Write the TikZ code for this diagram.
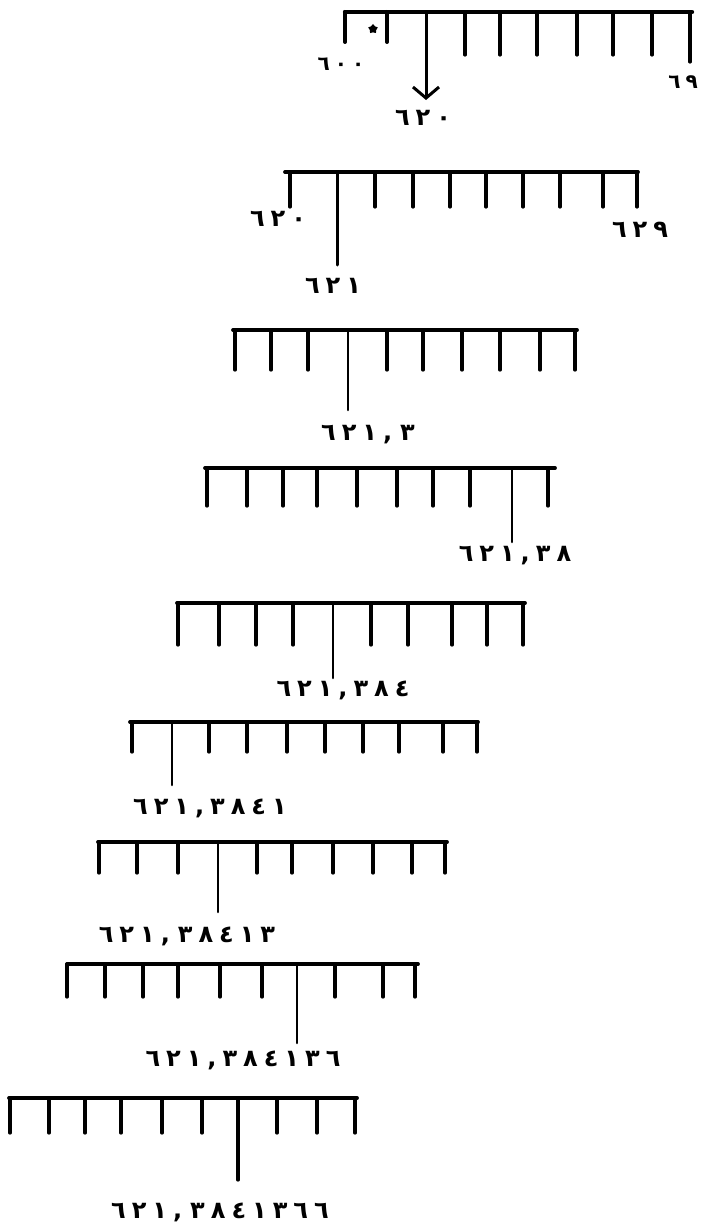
\documentclass[tikz,border=0pt]{standalone}
\usepackage{fontspec}
\TeXXeTstate=1
\newfontfamily\digitfont[LetterSpace=25]{DejaVu Sans Bold}
\usepackage{tikz}
\usetikzlibrary{arrows.meta,shapes.geometric}

\tikzset{
  bar/.style={line width=3.8pt, line cap=round},
  tick/.style={line width=3.2pt, line cap=round},
  pointer/.style={line width=2.6pt, line cap=round},
  lab/.style={inner sep=0pt, font=\digitfont\fontsize{24}{24}\selectfont},
  smalllab/.style={inner sep=0pt, font=\digitfont\fontsize{20}{20}\selectfont}
}

\begin{document}
\begin{tikzpicture}[x=1pt, y=-1pt, >=Stealth]
\useasboundingbox (0,0) rectangle (706,1231);
% ruler 1
\begin{scope}
  \draw[bar, line width=4.4pt] (345,12) -- (692,12);
  \foreach \x in {345,387}{\draw[tick, line width=4pt] (\x,12) -- (\x,42);}
  \foreach \x in {465,500,537,577,613,652}{\draw[tick] (\x,12) -- (\x,55);}
  \draw[tick] (690,12) -- (690,62);
  \node[star, star points=5, fill, inner sep=0pt, minimum size=10pt] (mark) at (373,29) {};
  \node[smalllab] (l0a) at (341,64) {\beginR\beginL ٦٠٠\endL\endR};
  \node[smalllab] (l0b) at (683,82) {\beginR\beginL ٦٩\endL\endR};
  \node[lab] (l1) at (423,118) {\beginR\beginL ٦٢٠\endL\endR};
  \draw[pointer, line width=3pt, -{Straight Barb[length=11pt, width=26pt, line width=3pt]}] (426,12) -- (426,100);
\end{scope}
% ruler 2
\begin{scope}
  \draw[bar] (285,172) -- (638,172);
  \foreach \x in {290,375,413,450,486,523,560,603,637}{\draw[tick] (\x,172) -- (\x,207);}
  \draw[pointer, line width=3pt] (337,172) -- (337,265);
  \node[lab] (l1a) at (278,219) {\beginR\beginL ٦٢٠\endL\endR};
  \node[lab] (l1b) at (640,230) {\beginR\beginL ٦٢٩\endL\endR};
  \node[lab] (l2) at (333,286) {\beginR\beginL ٦٢١\endL\endR};
\end{scope}
% ruler 3
\begin{scope}
  \draw[bar] (233,330) -- (577,330);
  \foreach \x in {235,271,308,387,423,462,500,540,575}{\draw[tick] (\x,330) -- (\x,370);}
  \draw[pointer] (348,330) -- (348,410);
  \node[lab] (l3) at (368,435) {\beginR\beginL ٦٢١,\hspace{8pt}٣\endL\endR};
\end{scope}
% ruler 4
\begin{scope}
  \draw[bar] (205,468) -- (555,468);
  \foreach \x in {207,247,283,317,357,397,433,470,548}{\draw[tick] (\x,468) -- (\x,506);}
  \draw[pointer] (512,468) -- (512,542);
  \node[lab] (l4) at (515,556) {\beginR\beginL ٦٢١,٣٨\endL\endR};
\end{scope}
% ruler 5
\begin{scope}
  \draw[bar] (177,603) -- (525,603);
  \foreach \x in {178,219,256,293,371,408,452,487,523}{\draw[tick] (\x,603) -- (\x,645);}
  \draw[pointer] (333,603) -- (333,678);
  \node[lab] (l5) at (343,690) {\beginR\beginL ٦٢١\hspace{6pt},٣٨٤\endL\endR};
\end{scope}
% ruler 6
\begin{scope}
  \draw[bar] (130,722) -- (478,722);
  \foreach \x in {132,209,247,287,325,363,399,443,477}{\draw[tick] (\x,722) -- (\x,752);}
  \draw[pointer] (172,722) -- (172,785);
  \node[lab] (l6) at (210,808) {\beginR\beginL ٦٢١,٣٨٤١\endL\endR};
\end{scope}
% ruler 7
\begin{scope}
  \draw[bar] (98,842) -- (447,842);
  \foreach \x in {99,137,178,257,292,333,373,412,445}{\draw[tick] (\x,842) -- (\x,873);}
  \draw[pointer] (218,842) -- (218,912);
  \node[lab] (l7) at (187,936) {\beginR\beginL ٦٢١,\hspace{8pt}٣٨٤١٣\endL\endR};
\end{scope}
% ruler 8
\begin{scope}
  \draw[bar] (67,964) -- (418,964);
  \foreach \x in {67,105,143,178,220,262,335,383,415}{\draw[tick] (\x,964) -- (\x,997);}
  \draw[pointer] (297,964) -- (297,1043);
  \node[lab] (l8) at (243,1060) {\beginR\beginL ٦٢١,٣\hspace{6pt}٨٤١٣٦\endL\endR};
\end{scope}
% ruler 9
\begin{scope}
  \draw[bar] (9,1098) -- (357,1098);
  \foreach \x in {10,49,85,121,162,202,277,317,355}{\draw[tick] (\x,1098) -- (\x,1133);}
  \draw[pointer, line width=3.2pt] (238,1098) -- (238,1180);
  \node[lab] (l9) at (220,1212) {\beginR\beginL ٦٢١,\hspace{8pt}٣٨٤١٣٦٦\endL\endR};
\end{scope}
\end{tikzpicture}
\end{document}
